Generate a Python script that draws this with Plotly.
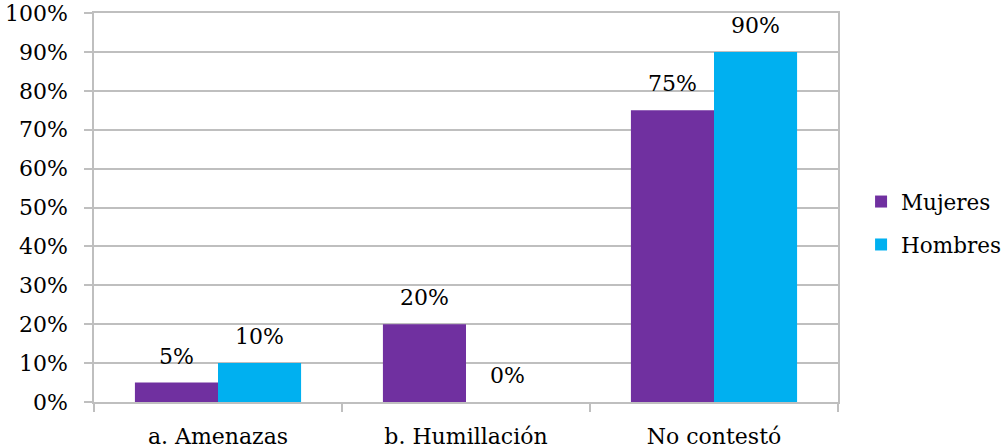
import plotly.graph_objects as go

categories = ["a. Amenazas", "b. Humillación", "No contestó"]
mujeres = [5, 20, 75]
hombres = [10, 0, 90]
series = [("Mujeres", mujeres, "#7030A0"), ("Hombres", hombres, "#00B0F0")]

FONT = "DejaVu Serif"
GRID = "#BFBFBF"
FS = 22
W, H = 1006, 448
ML, MR, MT, MB = 94, 168, 13, 46
BARGAP = 0.33

fig = go.Figure()
for i, (name, vals, color) in enumerate(series):
    fig.add_trace(go.Bar(x=categories, y=vals, name=name, marker_color=color,
                         marker_line_width=0, hoverinfo="skip", legendgroup=name))

# data labels placed above each bar (offset by half a bar width within each group)
plot_w = W - ML - MR
bar_w = plot_w / len(categories) * (1 - BARGAP) / len(series)
for i, (name, vals, color) in enumerate(series):
    shift = (i - (len(series) - 1) / 2) * bar_w
    for c, v in zip(categories, vals):
        fig.add_annotation(x=c, y=v, xref="x", yref="y", text=f"{v}%",
                           showarrow=False, xshift=shift, yshift=12,
                           yanchor="bottom", font=dict(family=FONT, size=FS, color="#000"))

fig.update_layout(
    width=W, height=H,
    margin=dict(l=ML, r=MR, t=MT, b=MB, autoexpand=False),
    paper_bgcolor="white", plot_bgcolor="white",
    barmode="group", bargap=BARGAP, bargroupgap=0,
    font=dict(family=FONT, size=FS, color="#000"),
    legend=dict(x=1.031, y=0.46, yanchor="middle", xanchor="left",
                font=dict(family=FONT, size=21.5), traceorder="grouped",
                tracegroupgap=12, itemwidth=30),
)
fig.update_xaxes(showline=True, linecolor=GRID, linewidth=1.5, mirror=True,
                 ticks="outside", tickson="boundaries", ticklen=8, tickcolor=GRID,
                 tickwidth=1.5, showgrid=False, tickfont=dict(family=FONT, size=FS),
                 automargin=False, ticklabelstandoff=14)
fig.update_yaxes(range=[0, 100], tickmode="linear", tick0=0, dtick=10, ticksuffix="%",
                 showline=True, linecolor=GRID, linewidth=1.5, mirror=True,
                 ticks="outside", ticklen=8, tickcolor=GRID, tickwidth=1.5,
                 showgrid=True, gridcolor=GRID, gridwidth=1.5, zeroline=False,
                 tickfont=dict(family=FONT, size=FS), automargin=False,
                 ticklabelstandoff=12)

fig.write_html("out.html", config={"displayModeBar": False},
               post_script="document.body.style.margin='0';")
